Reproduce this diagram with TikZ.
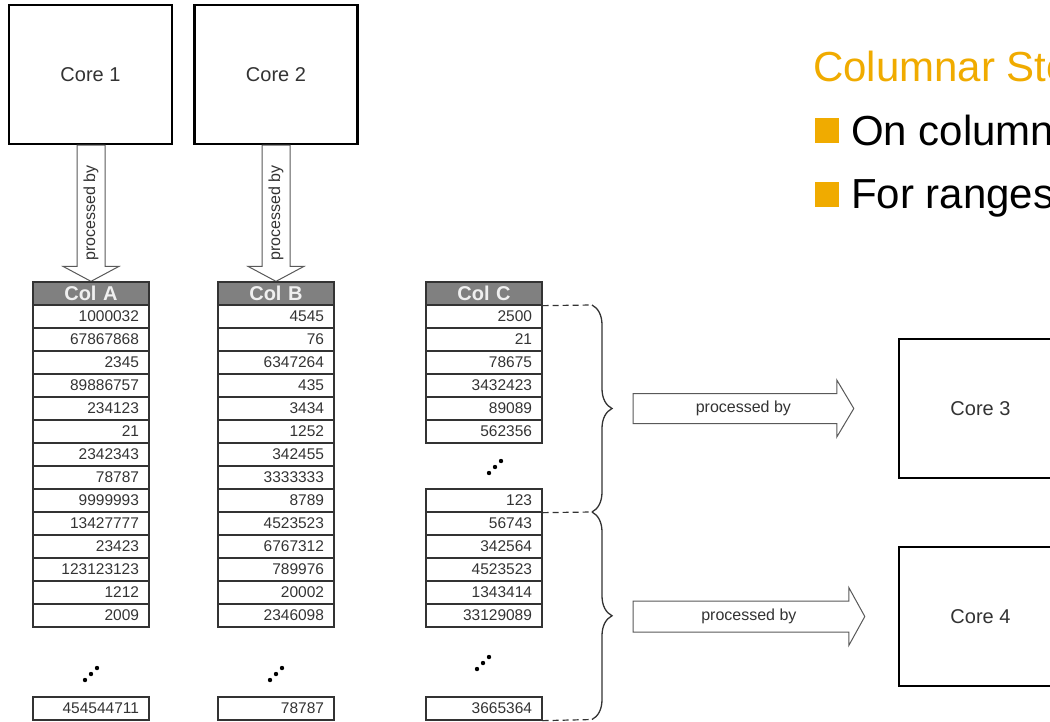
\documentclass[tikz,border=0pt]{standalone}
\usepackage{fontspec}
\setmainfont{Liberation Sans}
\usetikzlibrary{calc,decorations.pathreplacing}
\definecolor{orng}{HTML}{F0AB00}
\definecolor{hdr}{HTML}{808080}
\definecolor{ink}{HTML}{333333}
\definecolor{edge}{HTML}{333333}
\newcommand\mydots[2]{\fill[black] (#1-6,#2+6) circle (2.2pt) (#1,#2) circle (2.2pt) (#1+6,#2-6) circle (2.2pt);}
\begin{document}
\begin{tikzpicture}[x=1pt,y=-1pt,
  core/.style={draw=black, line width=2.4pt, fill=white, minimum width=163pt, minimum height=139pt, inner sep=0pt, font=\fontsize{20}{24}\selectfont, text=ink},
  cell/.style={draw=edge, line width=1.3pt, minimum width=116pt, minimum height=23pt, inner ysep=0pt, inner xsep=10pt, text width=96pt, align=right, font=\fontsize{15.5}{18}\selectfont, text=ink},
  head/.style={cell, fill=hdr, align=center, text=white!94!black, font=\bfseries\fontsize{20}{22}\selectfont},
  blockarrow/.style={draw=black!65, line width=1pt, fill=white},
  lbl/.style={font=\fontsize{16}{18}\selectfont, text=ink},
  dashlink/.style={draw=edge, line width=1.2pt, dash pattern=on 6pt off 4pt},
  bracepath/.style={draw=edge, line width=1.3pt, decorate, decoration={brace, amplitude=20pt}},
  bigtext/.style={font=\fontsize{42}{50}\selectfont, anchor=base west, inner sep=0pt}
]
\useasboundingbox (0,0) rectangle (1050,721);
\clip (0,0) rectangle (1050,721);

% cores
\node[core] (c1) at (90.5,74.5) {Core 1};
\node[core] (c2) at (276,74.5) {Core 2};
\node[core] (c3) at (980.5,408.5) {Core 3};
\node[core] (c4) at (980.5,616.5) {Core 4};

% column headers
\node[head] (hA) at (91,293.5) {Col A};
\node[head] (hB) at (276,293.5) {Col B};
\node[head] (hC) at (484,293.5) {Col C};

% down arrows
\foreach \c/\h in {c1/hA, c2/hB}{
  \draw[blockarrow] ($(\c.south -| \h.north)+(-14,0)$) -- ($(\h.north)+(-14,-15)$) -- ($(\h.north)+(-28,-15)$)
    -- (\h.north) -- ($(\h.north)+(28,-15)$) -- ($(\h.north)+(14,-15)$) -- ($(\c.south -| \h.north)+(14,0)$) -- cycle;
  \node[lbl, rotate=90] at ($(\c.south -| \h.north)!0.5!(\h.north)$) {processed by};
}
\node[head] at (hA) {Col A};
\node[head] at (hB) {Col B};

% column A
\foreach \v [count=\i] in {1000032,67867868,2345,89886757,234123,21,2342343,78787,9999993,13427777,23423,123123123,1212,2009}
  \node[cell] (cA\i) at (91,{305+(\i-0.5)*23}) {\v};
\node[cell] (cAl) at (91,708.5) {454544711};
\mydots{91}{674}

% column B
\foreach \v [count=\i] in {4545,76,6347264,435,3434,1252,342455,3333333,8789,4523523,6767312,789976,20002,2346098}
  \node[cell] (cB\i) at (276,{305+(\i-0.5)*23}) {\v};
\node[cell] (cBl) at (276,708.5) {78787};
\mydots{276}{674}

% column C
\foreach \v [count=\i] in {2500,21,78675,3432423,89089,562356}
  \node[cell] (cC\i) at (484,{305+(\i-0.5)*23}) {\v};
\node[cell] (cC7) at (484,500.5) {123};
\foreach \v [count=\i from 8] in {56743,342564,4523523,1343414,33129089}
  \node[cell] (cC\i) at (484,{512+(\i-7.5)*23}) {\v};
\node[cell] (cCl) at (484,708.5) {3665364};
\mydots{495}{467}
\mydots{483}{663}

% dashed links and braces
\coordinate (b1) at (592,305);
\coordinate (b2) at (592,512);
\coordinate (b3) at (592,719.5);
\draw[dashlink] (hC.south east) -- (b1);
\draw[dashlink] (cC7.south east) -- (b2);
\draw[dashlink] (cCl.south east) -- (b3);
\draw[bracepath] (b1) -- (b2);
\draw[bracepath] (b2) -- (b3);
\coordinate (t1) at ($(b1)!0.5!(b2)+(20,0)$);
\coordinate (t2) at ($(b2)!0.5!(b3)+(20,0)$);

% right arrows
\coordinate (a1s) at ($(t1 |- c3.west)+(21,0)$);
\coordinate (a1t) at ($(c3.west)+(-44,0)$);
\draw[blockarrow] ($(a1s)+(0,-15)$) -- ($(a1t)+(-17,-15)$) -- ($(a1t)+(-17,-28.5)$) -- (a1t)
  -- ($(a1t)+(-17,28.5)$) -- ($(a1t)+(-17,15)$) -- ($(a1s)+(0,15)$) -- cycle;
\node[lbl] at ($(a1s)!0.5!(a1t)$) {processed by};

\coordinate (a2s) at ($(t2 |- c4.west)+(21,0)$);
\coordinate (a2t) at ($(c4.west)+(-33,0)$);
\draw[blockarrow] ($(a2s)+(0,-15.5)$) -- ($(a2t)+(-16,-15.5)$) -- ($(a2t)+(-16,-29)$) -- (a2t)
  -- ($(a2t)+(-16,29)$) -- ($(a2t)+(-16,15.5)$) -- ($(a2s)+(0,15.5)$) -- cycle;
\node[lbl] at ($(a2s)!0.5!(a2t)$) {processed by};

% title and bullets
\node[bigtext, text=orng] (title) at (813,81) {Columnar Sto};
\fill[orng] (815,118) rectangle (839,143);
\node[bigtext, text=black] (bul1) at (851,145) {On column};
\fill[orng] (815,182) rectangle (839,207);
\node[bigtext, text=black] (bul2) at (851,208) {For ranges};
\end{tikzpicture}
\end{document}
